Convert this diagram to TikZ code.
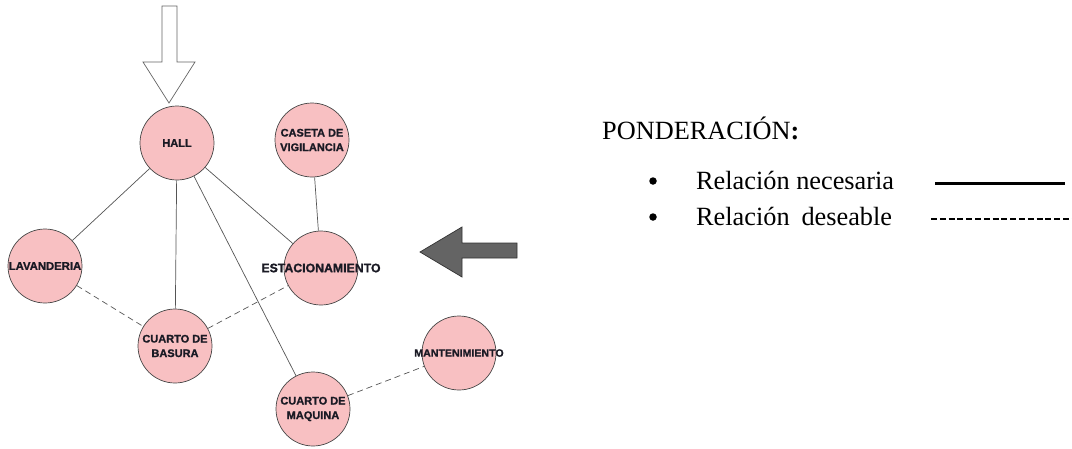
\documentclass[tikz,border=0pt]{standalone}
\usepackage{fontspec}
\setmainfont{Liberation Serif}
\newfontfamily\nodefont{Liberation Sans Bold}[FakeBold=1.2]
\definecolor{roomfill}{RGB}{248,192,194}
\definecolor{roomedge}{RGB}{70,70,70}
\definecolor{linkcol}{RGB}{85,85,85}
\definecolor{labcol}{RGB}{26,26,36}
\definecolor{arrowgrey}{RGB}{100,100,100}
\tikzset{
  room/.style={circle, draw=roomedge, line width=0.7pt, fill=roomfill, minimum size=74pt, inner sep=0pt},
  roomtxt/.style={font=\nodefont\fontsize{11}{14.5}\selectfont, text=labcol, align=center, inner sep=0pt},
  need/.style={draw=linkcol, line width=0.7pt},
  want/.style={draw=linkcol, line width=0.7pt, dash pattern=on 6pt off 4pt},
  legtxt/.style={font=\fontsize{26.3}{30}\selectfont, anchor=base west, inner sep=0pt},
  dot/.style={circle, fill=black, minimum size=7.5pt, inner sep=0pt}
}
\begin{document}
\begin{tikzpicture}[x=1pt,y=-1pt]
\useasboundingbox (0,0) rectangle (1072,448);
% rooms
\node[room, label={[roomtxt]center:HALL}] (hall) at (177,143) {};
\node[room, label={[roomtxt]center:CASETA DE\\VIGILANCIA}] (caseta) at (312,140) {};
\node[room, label={[roomtxt,font=\nodefont\fontsize{11.3}{14}\selectfont]center:LAVANDERIA}] (lav) at (45,266) {};
\node[room, label={[roomtxt,font=\nodefont\fontsize{12.3}{14}\selectfont]center:ESTACIONAMIENTO}] (est) at (321,268) {};
\node[room, label={[roomtxt]center:CUARTO DE\\BASURA}] (bas) at (175,346) {};
\node[room, label={[roomtxt]center:CUARTO DE\\MAQUINA}] (maq) at (313,409) {};
\node[room, label={[roomtxt,font=\nodefont\fontsize{10.6}{14}\selectfont]center:MANTENIMIENTO}] (man) at (459,353) {};
% links
\draw[need] (hall) -- (lav);
\draw[need] (hall) -- (bas);
\draw[need] (hall) -- (maq);
\draw[need] (hall) -- (est);
\draw[need] (caseta) -- (est);
\draw[want] (lav) -- (bas);
\draw[want] (bas) -- (est);
\draw[want] (maq) -- (man);
% arrows
\draw[draw=arrowgrey, fill=white, line width=0.7pt]
  (162,6) -- (177,6) -- (177,62) -- (195,62) -- (169,103) -- (143,62) -- (162,62) -- cycle;
\draw[draw=black!80, fill=arrowgrey, line width=0.7pt]
  (420,252) -- (462,227) -- (462,243) -- (517,243) -- (517,258) -- (462,258) -- (462,277) -- cycle;
% legend
\node[legtxt] (title) at (602,139) {PONDERACIÓN\textbf{:}};
\node[dot] (b1) at (653,181) {};
\node[legtxt] (l1) at (696,189) {Relación necesaria};
\node[dot] (b2) at (653,217) {};
\node[legtxt] (l2) at (696,225) {Relación\hspace{0.45em}deseable};
\coordinate (s1a) at (935,183);
\coordinate (s1b) at (1065,183);
\coordinate (s2a) at (931,219);
\coordinate (s2b) at (1072,219);
\draw[line width=3pt] (s1a) -- (s1b);
\draw[line width=1.1pt, dash pattern=on 6pt off 2.8pt] (s2a) -- (s2b);
\end{tikzpicture}
\end{document}
